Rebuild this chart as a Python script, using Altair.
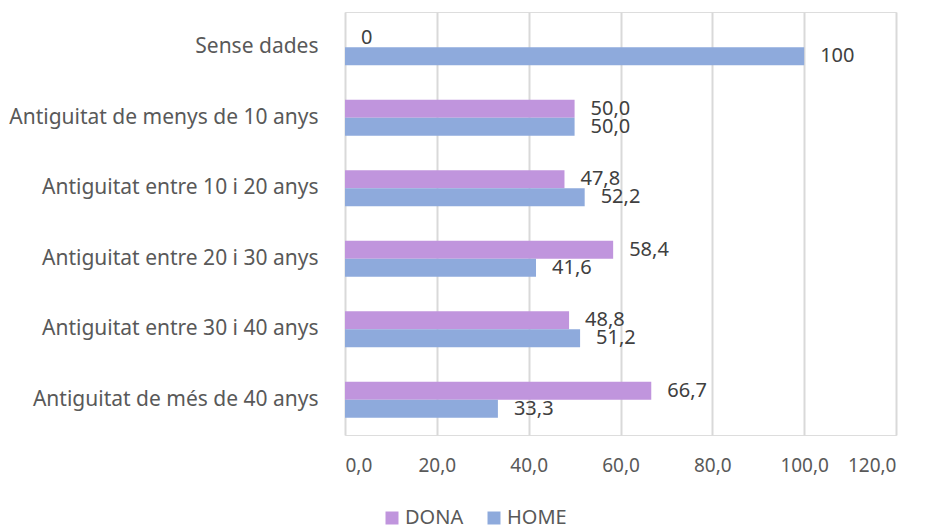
import altair as alt
import pandas as pd

categories = [
    "Sense dades",
    "Antiguitat de menys de 10 anys",
    "Antiguitat entre 10 i 20 anys",
    "Antiguitat entre 20 i 30 anys",
    "Antiguitat entre 30 i 40 anys",
    "Antiguitat de més de 40 anys",
]
series = ["DONA", "HOME"]
dona_values = [0, 50.0, 47.8, 58.4, 48.8, 66.7]
home_values = [100, 50.0, 52.2, 41.6, 51.2, 33.3]
dona_labels = ["0", "50,0", "47,8", "58,4", "48,8", "66,7"]
home_labels = ["100", "50,0", "52,2", "41,6", "51,2", "33,3"]
colors = ["#C095DD", "#8EAADC"]

rows = []
for c, v, l in zip(categories, dona_values, dona_labels):
    rows.append({"cat": c, "sex": "DONA", "value": v, "label": l})
for c, v, l in zip(categories, home_values, home_labels):
    rows.append({"cat": c, "sex": "HOME", "value": v, "label": l})
df = pd.DataFrame(rows)

FONT = "Noto Sans"

y_enc = alt.Y(
    "cat:N",
    sort=categories,
    title=None,
    scale=alt.Scale(paddingInner=0.49, paddingOuter=0.245),
    axis=alt.Axis(
        labelFont=FONT, labelFontSize=21, labelColor="#595959",
        ticks=False, domain=False, grid=False, labelPadding=27, labelLimit=400,
    ),
)
yoff = alt.YOffset("sex:N", sort=series, scale=alt.Scale(paddingInner=0))
x_enc = alt.X(
    "value:Q",
    title=None,
    scale=alt.Scale(domain=[0, 120]),
    axis=alt.Axis(
        values=[0, 20, 40, 60, 80, 100, 120],
        labelExpr="replace(format(datum.value, '.1f'), '.', ',')",
        labelFont=FONT, labelFontSize=19, labelColor="#595959",
        ticks=False, domain=False, grid=True, gridColor="#D9D9D9", gridWidth=2,
        labelPadding=21,
    ),
)

bars = alt.Chart(df).mark_bar().encode(
    y=y_enc,
    yOffset=yoff,
    x=x_enc,
    color=alt.Color(
        "sex:N",
        sort=series,
        scale=alt.Scale(domain=series, range=colors),
        legend=alt.Legend(
            title=None, orient="none", direction="horizontal",
            legendX=37, legendY=496, symbolType="square", symbolSize=169,
            symbolStrokeWidth=0, labelFont=FONT, labelFontSize=20,
            labelColor="#595959", columnPadding=20, labelOffset=3,
        ),
    ),
)

text = alt.Chart(df).mark_text(
    align="left", baseline="middle", dx=16, font=FONT, fontSize=20, color="#404040"
).encode(
    y=alt.Y("cat:N", sort=categories),
    yOffset=yoff,
    x=alt.X("value:Q"),
    text="label:N",
)

chart = (
    alt.layer(bars, text)
    .properties(
        width=551,
        height=423,
        autosize=alt.AutoSizeParams(type="none"),
        padding={"left": 337, "top": 4, "right": 10, "bottom": 110},
    )
    .configure_axis(domain=False, ticks=False)
    .configure_axisX(domain=False)
    .configure_axisY(domain=False)
    .configure_view(stroke="transparent", strokeWidth=0)
    .configure(background="white")
)

chart.save("out.html", embed_options={"renderer": "svg", "actions": False})
